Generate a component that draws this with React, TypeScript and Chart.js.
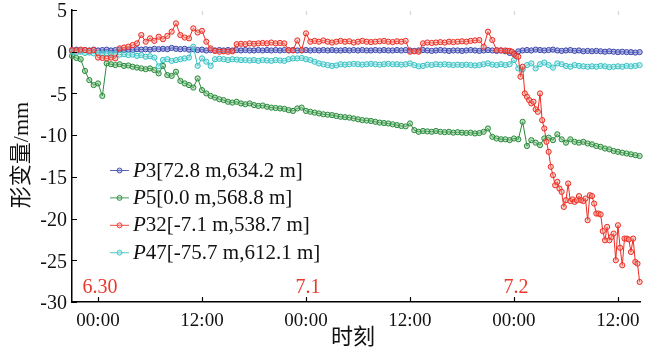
import { useEffect, useRef } from "react";
import { Chart, registerables } from "chart.js";
Chart.register(...registerables);

// time in hours from 6.30 00:00
const HOURS = [
  -3, -2.5, -2, -1.5, -1, -0.5, 0, 0.5, 1, 1.5,
  2, 2.5, 3, 3.5, 4, 4.5, 5, 5.5, 6, 6.5,
  7, 7.5, 8, 8.5, 9, 9.5, 10, 10.5, 11, 11.5,
  12, 12.5, 13, 13.5, 14, 14.5, 15, 15.5, 16, 16.5,
  17, 17.5, 18, 18.5, 19, 19.5, 20, 20.5, 21, 21.5,
  22, 22.5, 23, 23.5, 24, 24.5, 25, 25.5, 26, 26.5,
  27, 27.5, 28, 28.5, 29, 29.5, 30, 30.5, 31, 31.5,
  32, 32.5, 33, 33.5, 34, 34.5, 35, 35.5, 36, 36.5,
  37, 37.5, 38, 38.5, 39, 39.5, 40, 40.5, 41, 41.5,
  42, 42.5, 43, 43.5, 44, 44.5, 45, 45.5, 46, 46.5,
  47, 47.5, 48, 48.5, 49, 49.5, 50, 50.5, 51, 51.5,
  52, 52.5, 53, 53.5, 54, 54.5, 55, 55.5, 56, 56.5,
  57, 57.5, 58, 58.5, 59, 59.5, 60, 60.5, 61, 61.5,
  62, 62.5,
];

// P32 is sampled more finely during the collapse
const RED_HOURS = [
  -3, -2.5, -2, -1.5, -1, -0.5, 0, 0.5, 1, 1.5,
  2, 2.5, 3, 3.5, 4, 4.5, 5, 5.5, 6, 6.5,
  7, 7.5, 8, 8.5, 9, 9.5, 10, 10.5, 11, 11.5,
  12, 12.5, 13, 13.5, 14, 14.5, 15, 15.5, 16, 16.5,
  17, 17.5, 18, 18.5, 19, 19.5, 20, 20.5, 21, 21.5,
  22, 22.5, 23, 23.5, 24, 24.5, 25, 25.5, 26, 26.5,
  27, 27.5, 28, 28.5, 29, 29.5, 30, 30.5, 31, 31.5,
  32, 32.5, 33, 33.5, 34, 34.5, 35, 35.5, 36, 36.5,
  37, 37.5, 38, 38.5, 39, 39.5, 40, 40.5, 41, 41.5,
  42, 42.5, 43, 43.5, 44, 44.5, 45, 45.5, 46, 46.5,
  47, 47.25, 47.5, 47.75, 48, 48.25, 48.5, 48.75, 49, 49.25,
  49.5, 49.75, 50, 50.25, 50.5, 50.75, 51, 51.25, 51.5, 51.75,
  52, 52.25, 52.5, 52.75, 53, 53.25, 53.5, 53.75, 54, 54.25,
  54.5, 54.75, 55, 55.25, 55.5, 55.75, 56, 56.25, 56.5, 56.75,
  57, 57.25, 57.5, 57.75, 58, 58.25, 58.5, 58.75, 59, 59.25,
  59.5, 59.75, 60, 60.25, 60.5, 60.75, 61, 61.25, 61.5, 61.75,
  62, 62.25, 62.5,
];

const P3 = [
  0.15, 0.25, 0.15, 0.2, 0.15, 0.25, 0.15, 0.2, 0.25, 0.15,
  0.2, 0.25, 0.2, 0.25, 0.2, 0.3, 0.25, 0.3, 0.25, 0.35,
  0.3, 0.35, 0.3, 0.45, 0.35, 0.3, 0.35, 0.25, 0.3, 0.2,
  0.25, 0.15, 0.2, 0.15, 0.2, 0.15, 0.2, 0.15, 0.2, 0.15,
  0.2, 0.15, 0.15, 0.2, 0.15, 0.2, 0.15, 0.2, 0.15, 0.2,
  0.15, 0.2, 0.15, 0.15, 0.2, 0.15, 0.2, 0.15, 0.2, 0.15,
  0.2, 0.15, 0.15, 0.2, 0.15, 0.2, 0.15, 0.2, 0.15, 0.15,
  0.2, 0.15, 0.2, 0.15, 0.15, 0.2, 0.15, 0.2, 0.15, 0.1,
  0.15, 0.2, 0.15, 0.1, 0.15, 0.2, 0.15, 0.1, 0.15, 0.15,
  0.1, 0.15, 0.2, 0.15, 0.1, 0.15, 0.2, 0.15, 0.1, 0.15,
  0.05, -0.15, -0.2, 0.05, 0.15, 0.2, 0.15, 0.25, 0.2, 0.15,
  0.2, 0.25, 0.15, 0.1, 0.15, 0.2, 0.1, 0.15, 0.05, 0.1,
  0.05, 0.1, 0.05, 0.0, 0.05, 0.0, -0.05, 0.0, -0.05, -0.05,
  -0.1, -0.05,
];

const P5 = [
  -0.5, -0.75, -0.9, -2.3, -3.4, -4.0, -3.8, -5.3, -1.4, -1.5,
  -1.6, -1.5, -1.7, -1.65, -1.8, -1.9, -2.0, -2.1, -2.0, -2.2,
  -2.6, -1.7, -2.8, -2.9, -2.4, -3.5, -3.8, -4.0, -4.3, -3.2,
  -4.6, -5.0, -5.3, -5.5, -5.7, -5.8, -6.0, -6.1, -6.0, -6.2,
  -6.3, -6.2, -6.4, -6.5, -6.45, -6.6, -6.7, -6.75, -6.8, -6.85,
  -7.0, -7.1, -6.8, -6.7, -7.1, -7.2, -7.3, -7.4, -7.5, -7.55,
  -7.6, -7.7, -7.8, -7.85, -7.9, -8.0, -8.1, -8.2, -8.25, -8.3,
  -8.4, -8.5, -8.55, -8.6, -8.7, -8.8, -8.9, -8.95, -8.6, -9.4,
  -9.6, -9.5, -9.55, -9.6, -9.5, -9.6, -9.65, -9.6, -9.7, -9.65,
  -9.7, -9.75, -9.7, -9.8, -9.75, -9.6, -9.2, -10.2, -10.4, -10.5,
  -10.5, -10.6, -10.4, -10.5, -8.4, -11.3, -10.6, -10.9, -11.2, -10.4,
  -10.3, -10.6, -9.9, -10.5, -10.9, -10.5, -10.8, -10.9, -10.8, -11.0,
  -11.1, -11.3, -11.4, -11.6, -11.7, -11.9, -12.0, -12.1, -12.2, -12.3,
  -12.4, -12.5,
];

const P32 = [
  0.2, 0.15, 0.25, 0.2, 0.1, 0.2, -0.7, -0.75, -0.8, -0.7,
  -0.8, 0.4, 0.5, 0.6, 0.8, 1.0, 2.0, 1.2, 1.6, 1.3,
  1.8, 1.5, 1.9, 2.4, 3.4, 2.0, 1.7, 1.6, 2.8, 2.3,
  2.5, 1.2, 0.4, 0.1, 0.0, 0.05, 0.0, 0.05, 0.9, 0.95,
  0.9, 1.0, 0.95, 1.0, 1.05, 1.0, 1.1, 1.0, 1.05, 1.0,
  0.2, 0.15, 1.35, 0.2, 2.2, 1.2, 1.3, 1.2, 1.35, 1.2,
  1.1, 1.2, 1.3, 1.2, 1.25, 1.1, 1.2, 1.3, 1.2, 1.15,
  1.2, 1.25, 1.3, 1.2, 1.15, 1.25, 1.2, 1.3, 0.0, 0.05,
  0.0, 1.0, 1.1, 1.05, 1.1, 1.15, 1.1, 1.2, 1.15, 1.2,
  1.25, 1.2, 1.3, 1.35, 1.4, 0.6, 2.4, 1.4, 0.2, 0.15,
  0.15, 0.1, 0.1, 0.0, -0.3, -0.5, -0.6, -3.0, -1.8, -5.0,
  -5.4, -5.8, -6.2, -6.0, -6.9, -7.2, -5.0, -8.2, -9.2, -10.8,
  -12.0, -13.8, -14.8, -16.0, -15.6, -16.4, -16.8, -18.6, -17.8, -15.8,
  -17.9, -17.7, -18.0, -17.8, -17.3, -17.8, -17.9, -17.6, -20.2, -17.2,
  -17.3, -18.2, -19.4, -19.4, -19.5, -21.5, -22.6, -21.0, -22.6, -22.2,
  -21.8, -25.0, -20.8, -23.5, -25.6, -22.4, -22.4, -22.5, -24.0, -22.4,
  -25.2, -25.4, -27.6,
];

const P47 = [
  0.0, -0.1, 0.0, -0.15, -0.1, -0.2, -0.15, -0.25, -0.2, -0.3,
  -0.25, -0.35, -0.3, -0.4, -0.35, -0.5, -0.4, -0.6, -0.55, -0.7,
  -1.75, -1.0, -0.9, -1.1, -1.0, -0.9, -0.8, -0.7, 0.6, -1.7,
  -0.8, -1.2, -1.7, -0.9, -0.85, -0.9, -1.0, -0.9, -0.95, -1.0,
  -1.0, -1.05, -1.0, -1.1, -1.0, -1.05, -1.1, -1.0, -1.05, -1.1,
  -0.9, -0.8, -0.8, -0.75, -0.9, -1.0, -1.2, -1.4, -1.5, -1.6,
  -1.7, -1.65, -1.5, -1.55, -1.5, -1.45, -1.5, -1.55, -1.5, -1.45,
  -1.5, -1.55, -1.5, -1.45, -1.5, -1.5, -1.55, -1.5, -1.4, -1.6,
  -1.75, -1.7, -1.55, -1.6, -1.5, -1.55, -1.5, -1.55, -1.6, -1.55,
  -1.6, -1.55, -1.6, -1.65, -1.6, -1.5, -1.4, -1.55, -1.6, -1.5,
  -1.6, -1.5, -1.0, -2.0, -2.1, -1.6, -1.4, -2.0, -1.5, -1.3,
  -1.6, -1.9, -1.4, -1.5, -1.7, -1.8, -1.6, -1.7, -1.75, -1.8,
  -1.75, -1.8, -1.7, -1.75, -1.85, -1.8, -1.75, -1.8, -1.7, -1.75,
  -1.7, -1.6,
];

const SERIES_IDS = ["3", "5", "32", "47"];
const SERIES_COORDS = ["[72.8 m,634.2 m]", "[0.0 m,568.8 m]", "[-7.1 m,538.7 m]", "[-75.7 m,612.1 m]"];
const X_TICKS = [0, 12, 24, 36, 48, 60];
const X_TICK_LABELS = ["00:00", "12:00", "00:00", "12:00", "00:00", "12:00"];
const Y_TICKS = [5, 0, -5, -10, -15, -20, -25, -30];
const DATE_POS = [0, 24, 48];
const DATE_LABELS = ["6.30", "7.1", "7.2"];
const Y_TITLE = "形变量/mm";
const X_TITLE = "时刻";

const COLORS = ["#3c48a8", "#2a8a3c", "#ec2b22", "#35c0c2"];
const FILLS = ["rgba(120,130,210,0.55)", "rgba(110,185,120,0.45)", "rgba(245,150,140,0.45)", "rgba(150,225,225,0.5)"];
const SERIF = "'Liberation Serif', 'Times New Roman', serif";

const decor = {
  id: "decor",
  afterDraw(chart: any) {
    const ctx = chart.ctx;
    const { left, top, bottom } = chart.chartArea;
    const xs = chart.scales.x;
    const ys = chart.scales.y;
    ctx.save();
    // inward ticks
    ctx.strokeStyle = "#000";
    ctx.lineWidth = 1.2;
    ctx.beginPath();
    X_TICKS.forEach((v) => {
      const px = Math.round(xs.getPixelForValue(v)) + 0.5;
      ctx.moveTo(px, bottom);
      ctx.lineTo(px, bottom - 5);
    });
    Y_TICKS.forEach((v) => {
      const py = Math.round(ys.getPixelForValue(v)) + 0.5;
      ctx.moveTo(left, py);
      ctx.lineTo(left + 5, py);
    });
    ctx.stroke();
    // faint top ticks
    ctx.strokeStyle = "#d8d8d8";
    ctx.beginPath();
    X_TICKS.slice(1).forEach((v) => {
      const px = Math.round(xs.getPixelForValue(v)) + 0.5;
      ctx.moveTo(px, top + 1);
      ctx.lineTo(px, top + 5);
    });
    ctx.stroke();

    // date labels
    ctx.fillStyle = "#e8392c";
    ctx.font = `20px ${SERIF}`;
    ctx.textAlign = "center";
    ctx.textBaseline = "middle";
    DATE_POS.forEach((v, i) => {
      ctx.fillText(DATE_LABELS[i], xs.getPixelForValue(v) + 2, bottom - 14);
    });

    // legend
    const lx = 110;
    const ly0 = 170;
    const step = 27.4;
    SERIES_IDS.forEach((id, i) => {
      const y = ly0 + i * step;
      ctx.strokeStyle = COLORS[i];
      ctx.globalAlpha = 0.85;
      ctx.lineWidth = 1;
      ctx.beginPath();
      ctx.moveTo(lx, y + 0.5);
      ctx.lineTo(lx + 19, y + 0.5);
      ctx.stroke();
      ctx.beginPath();
      ctx.arc(lx + 9.5, y + 0.5, 2.5, 0, Math.PI * 2);
      ctx.fillStyle = FILLS[i];
      ctx.fill();
      ctx.stroke();
      ctx.globalAlpha = 1;
      ctx.fillStyle = "#111";
      ctx.textAlign = "left";
      ctx.textBaseline = "middle";
      let x = lx + 23;
      ctx.font = `italic 21px ${SERIF}`;
      ctx.fillText("P", x, y + 1);
      x += ctx.measureText("P").width;
      ctx.font = `21px ${SERIF}`;
      ctx.fillText(id + SERIES_COORDS[i], x, y + 1);
    });

    // axis titles
    ctx.fillStyle = "#111";
    ctx.font = `22px ${SERIF}, 'Noto Sans CJK SC'`;
    ctx.textAlign = "center";
    ctx.textBaseline = "middle";
    ctx.save();
    ctx.translate(22, 155);
    ctx.rotate(-Math.PI / 2);
    ctx.fillText(Y_TITLE, 0, 0);
    ctx.restore();
    ctx.fillText(X_TITLE, 353, 338);
    ctx.restore();
  },
};

export default function App() {
  const ref = useRef<HTMLCanvasElement | null>(null);
  useEffect(() => {
    if (!ref.current) return;
    const series = [P3, P5, P32, P47];
    const times = [HOURS, HOURS, RED_HOURS, HOURS];
    const orders = [2, 3, 0, 1];
    const chart = new Chart(ref.current, {
      type: "line",
      data: {
        datasets: series.map((vals, i) => ({
          label: "P" + SERIES_IDS[i],
          data: vals.map((v, j) => ({ x: times[i][j], y: v })),
          borderColor: COLORS[i],
          backgroundColor: FILLS[i],
          pointBackgroundColor: FILLS[i],
          pointBorderColor: COLORS[i],
          pointRadius: 2.6,
          pointBorderWidth: 1,
          borderWidth: 1,
          tension: 0,
          order: orders[i],
          clip: false as any,
        })),
      },
      options: {
        responsive: false,
        animation: false,
        layout: { padding: { top: 10, right: 20.5, left: 0, bottom: 0 } },
        plugins: { legend: { display: false }, tooltip: { enabled: false } },
        scales: {
          x: {
            type: "linear",
            min: -3,
            max: 62.6,
            grid: { display: false, drawTicks: false },
            border: { display: true, color: "#000", width: 1.5 },
            afterBuildTicks: (s: any) => {
              s.ticks = X_TICKS.map((v) => ({ value: v }));
            },
            afterFit: (s: any) => {
              s.height = 60;
              s.paddingLeft = 0;
              s.paddingRight = 0;
            },
            ticks: {
              autoSkip: false,
              maxRotation: 0,
              padding: 8,
              color: "#111",
              font: { family: SERIF, size: 19 },
              callback: (_v: any, i: number) => X_TICK_LABELS[i],
            },
          },
          y: {
            min: -30,
            max: 5,
            grid: { display: false, drawTicks: false },
            border: { display: true, color: "#000", width: 1.5 },
            afterBuildTicks: (s: any) => {
              s.ticks = Y_TICKS.map((v) => ({ value: v }));
            },
            afterFit: (s: any) => {
              s.width = 72;
              s.paddingTop = 0;
              s.paddingBottom = 0;
            },
            ticks: {
              padding: 5,
              labelOffset: 2,
              color: "#111",
              font: { family: SERIF, size: 20 },
              callback: (v: any) => String(v),
            },
          },
        },
      },
      plugins: [decor],
    });
    return () => chart.destroy();
  }, []);
  return (
    <div style={{ position: "absolute", left: 0, top: 0, width: 661, height: 362, background: "#fff" }}>
      <canvas ref={ref} width={661} height={362} />
    </div>
  );
}
